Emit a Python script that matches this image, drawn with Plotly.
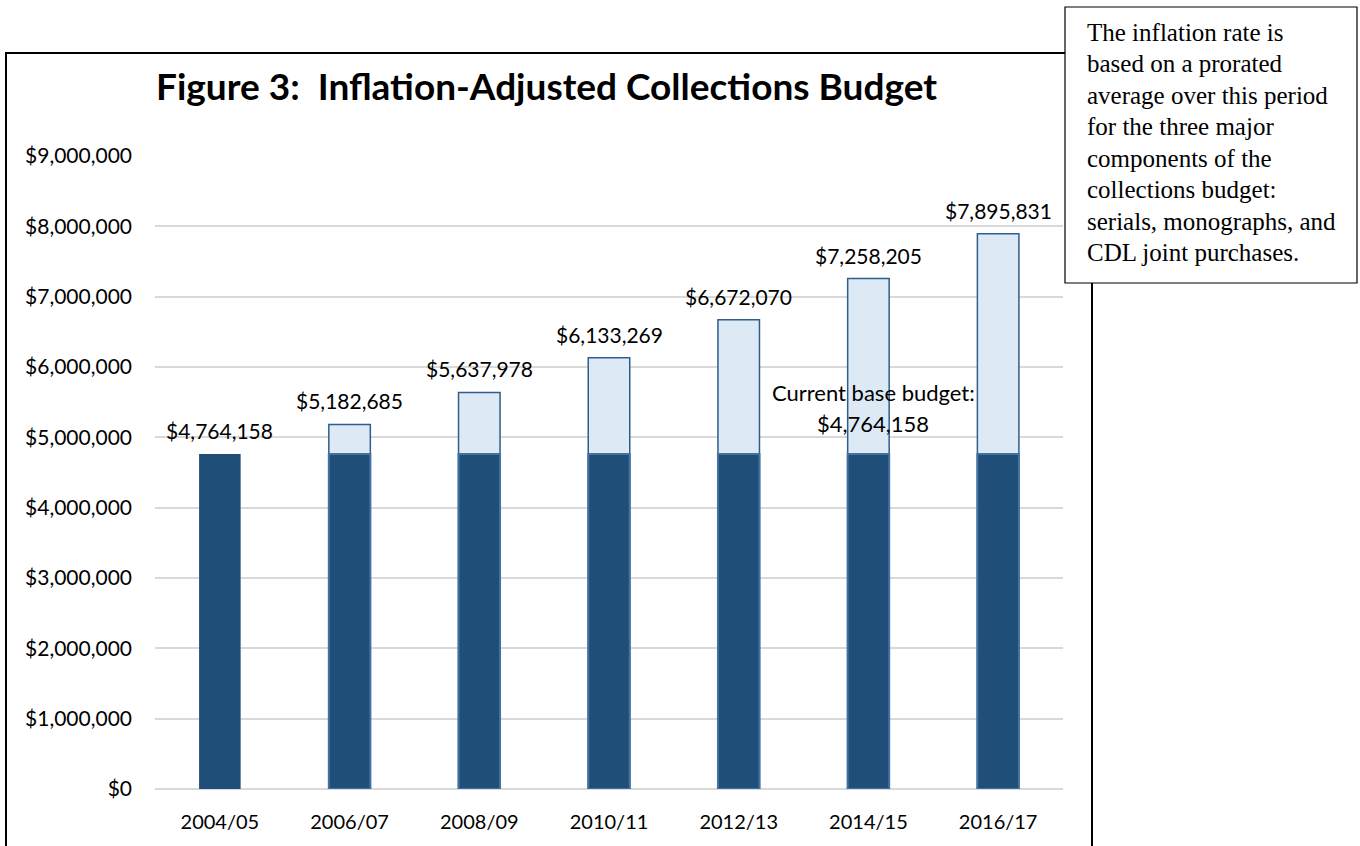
import plotly.graph_objects as go

years = ["2004/05", "2006/07", "2008/09", "2010/11", "2012/13", "2014/15", "2016/17"]
totals = [4764158, 5182685, 5637978, 6133269, 6672070, 7258205, 7895831]
base_budget = 4764158
base = [base_budget] * len(years)
title_text = "Figure 3:  Inflation-Adjusted Collections Budget"
note_lines = ["The inflation rate is", "based on a prorated", "average over this period",
              "for the three major", "components of the", "collections budget:",
              "serials, monographs, and", "CDL joint purchases."]
base_lines = ["Current base budget:", f"${base_budget:,.0f}"]

W, H = 1360, 846
L, R, T, B = 155, 1063, 156, 789
DARK = "#1F4E79"
LIGHT = "#DDEAF6"
FONT = "Lato"

def px_x(p):
    return (p - L) / (R - L)

def px_y(p):
    return (B - p) / (B - T)

fig = go.Figure()
fig.add_trace(go.Bar(
    x=years, y=totals, width=0.32,
    marker=dict(color=LIGHT,
                line=dict(color="#2E5E8C", width=[0] + [1.5] * (len(years) - 1))),
    hoverinfo="x+y", showlegend=False,
))
fig.add_trace(go.Bar(
    x=years, y=base, width=0.32,
    marker=dict(color=DARK,
                line=dict(color="#4472A0", width=[0] + [2] * (len(years) - 1))),
    hoverinfo="x+y", showlegend=False,
))

annotations = []
for yr, v in zip(years, totals):
    annotations.append(dict(
        x=yr, y=v, xref="x", yref="y", text=f"${v:,.0f}", showarrow=False,
        yanchor="bottom", yshift=9, font=dict(family=FONT, size=21, color="black")))

for i, line in enumerate(base_lines):
    annotations.append(dict(
        x=years[5], y=5.43e6, xref="x", yref="y", xshift=5, yshift=15 - 31 * i,
        text=line, showarrow=False, yanchor="middle",
        font=dict(family=FONT, size=22, color="black")))

annotations.append(dict(
    x=px_x(546), y=px_y(85), xref="paper", yref="paper", text=f"<b>{title_text}</b>",
    showarrow=False, font=dict(family=FONT, size=37, color="black"),
    xanchor="center", yanchor="middle"))

for i, line in enumerate(note_lines):
    annotations.append(dict(
        x=px_x(1085), y=px_y(32 + 31.5 * i), xref="paper", yref="paper", text=line,
        showarrow=False, align="left", xanchor="left", yanchor="middle",
        font=dict(family="Liberation Serif", size=25, color="black")))

shapes = [
    dict(type="rect", xref="paper", yref="paper", layer="above",
         x0=px_x(6), x1=px_x(1092), y0=px_y(53), y1=px_y(900),
         line=dict(color="black", width=2), fillcolor="rgba(0,0,0,0)"),
    dict(type="rect", xref="paper", yref="paper", layer="above",
         x0=px_x(1065), x1=px_x(1357), y0=px_y(7), y1=px_y(283),
         line=dict(color="black", width=1.2), fillcolor="white"),
]

fig.update_layout(
    width=W, height=H,
    margin=dict(l=L, r=W - R, t=T, b=H - B, pad=0),
    paper_bgcolor="white", plot_bgcolor="white",
    barmode="overlay", bargap=0.5,
    annotations=annotations, shapes=shapes,
    font=dict(family=FONT, size=18, color="black"),
    xaxis=dict(type="category", showgrid=False, showline=False, ticks="",
               ticklabelstandoff=19, tickfont=dict(family=FONT, size=20, color="black"),
               fixedrange=True),
    yaxis=dict(range=[0, 9e6], dtick=1e6, tickformat="$,.0f", showgrid=True,
               gridcolor="#D9D9D9", gridwidth=1.5, zeroline=True, zerolinecolor="#D9D9D9",
               zerolinewidth=1.5, showline=False, ticks="", ticklabelstandoff=22,
               tickfont=dict(family=FONT, size=21, color="black"), fixedrange=True),
)

fig.write_html("out.html", config={"displayModeBar": False},
               post_script="document.body.style.margin='0';document.body.style.overflow='hidden';")
